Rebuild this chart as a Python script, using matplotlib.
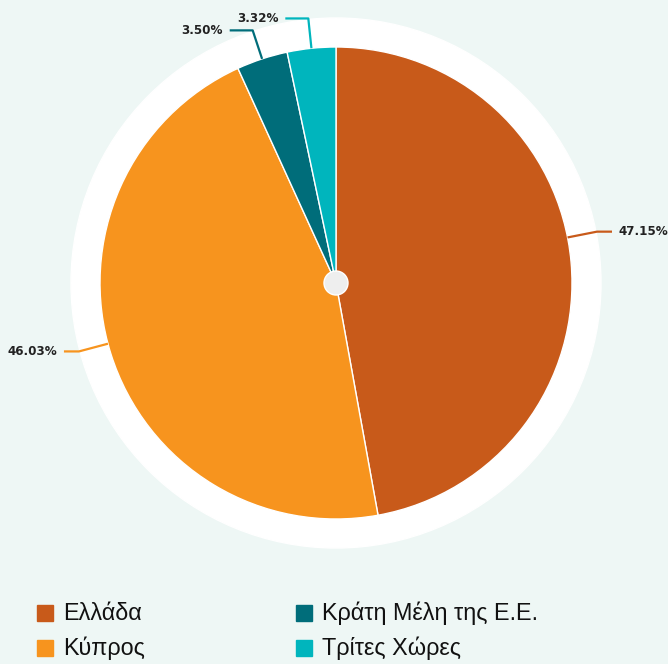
import numpy as np
import matplotlib.pyplot as plt
from matplotlib.patches import Circle, Rectangle

# data
labels = ['Ελλάδα', 'Κύπρος', 'Κράτη Μέλη της Ε.Ε.', 'Τρίτες Χώρες']
values = [47.15, 46.03, 3.50, 3.32]
colors = ['#c85a1a', '#f7941e', '#006d7a', '#00b5bd']
value_labels = ['47.15%', '46.03%', '3.50%', '3.32%']

bg = '#eef7f5'
W, H = 668, 664
cx, cy = 336, H - 283
R = 236

fig = plt.figure(figsize=(W / 100, H / 100), dpi=100, facecolor=bg)
ax = fig.add_axes([0, 0, 1, 1])
ax.set_xlim(0, W)
ax.set_ylim(0, H)
ax.set_aspect('equal')
ax.axis('off')

# white ring behind the pie
ax.add_patch(Circle((cx, cy), 265, color='white', zorder=0))

wedges, _ = ax.pie(values, colors=colors, startangle=90, counterclock=False,
                   center=(cx, cy), radius=R,
                   wedgeprops={'edgecolor': 'white', 'linewidth': 1})
ax.set_xlim(0, W)
ax.set_ylim(0, H)

# small dot in the middle
ax.add_patch(Circle((cx, cy), 12, facecolor='#eeeeee', edgecolor='white', lw=1, zorder=5))

# data labels with leader lines
nudge = [6, 2.5, 0, 0]  # degrees, to spread the big labels a bit
for w, txt, col, nd in zip(wedges, value_labels, colors, nudge):
    mid = (w.theta1 + w.theta2) / 2
    if np.cos(np.radians(mid)) > 0:
        mid += nd
    else:
        mid -= nd
    a = np.radians(mid)
    x0, y0 = cx + R * np.cos(a), cy + R * np.sin(a)
    x1, y1 = cx + 266 * np.cos(a), cy + 266 * np.sin(a)
    side = 1 if np.cos(a) > 0.3 else -1
    x2 = x1 + side * (15 if abs(np.cos(a)) > 0.5 else 23)
    ax.plot([x0, x1, x2], [y0, y1, y1], color=col, lw=1.6, zorder=3,
            solid_capstyle='butt')
    ax.text(x2 + side * 7, y1, txt, ha='left' if side > 0 else 'right',
            va='center', fontsize=9.5, fontweight='bold', color='#222222',
            family='DejaVu Sans', fontstretch='condensed')

# legend
leg_x = [37, 296]
leg_y = [H - 613, H - 648]
for i, (lab, col) in enumerate(zip(labels, colors)):
    lx = leg_x[i // 2]
    ly = leg_y[i % 2]
    ax.add_patch(Rectangle((lx, ly - 8), 16, 16, color=col))
    ax.text(lx + 26, ly, lab, ha='left', va='center', fontsize=16.8,
            color='#111111', family=['Liberation Sans', 'DejaVu Sans'])

fig.savefig('out.png', dpi=100, facecolor=bg)
